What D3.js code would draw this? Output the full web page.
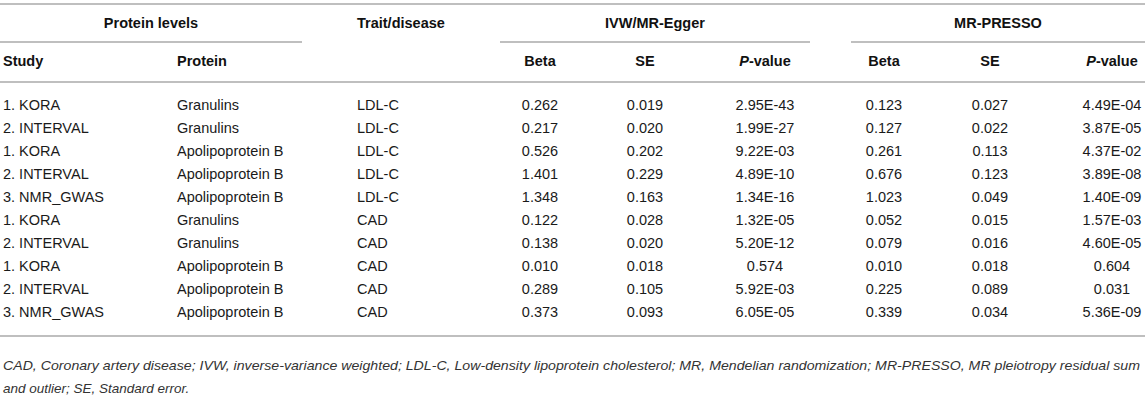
<!DOCTYPE html>
<html lang="en">
<head>
<meta charset="utf-8">
<title>MR results table</title>
<script src="https://cdn.jsdelivr.net/npm/d3@7"></script>
<style>
    body { margin: 0; background: #fff; }
    svg { display: block; font-family: "Liberation Sans", Arial, Helvetica, sans-serif; }
    .rule { stroke: #aaa; stroke-width: 1.5; }
    .hdr { font-weight: bold; font-size: 14.5px; fill: #111; }
    .cell { font-size: 14.5px; fill: #1a1a1a; }
    .note { font-size: 13.5px; font-style: italic; fill: #333; }
</style>
</head>
<body>
<svg width="1145" height="412"></svg>
<script>
// table data
var studies  = ["1. KORA", "2. INTERVAL", "1. KORA", "2. INTERVAL", "3. NMR_GWAS",
                "1. KORA", "2. INTERVAL", "1. KORA", "2. INTERVAL", "3. NMR_GWAS"];
var proteins = ["Granulins", "Granulins", "Apolipoprotein B", "Apolipoprotein B", "Apolipoprotein B",
                "Granulins", "Granulins", "Apolipoprotein B", "Apolipoprotein B", "Apolipoprotein B"];
var traits   = ["LDL-C", "LDL-C", "LDL-C", "LDL-C", "LDL-C", "CAD", "CAD", "CAD", "CAD", "CAD"];
var ivwBeta  = ["0.262", "0.217", "0.526", "1.401", "1.348", "0.122", "0.138", "0.010", "0.289", "0.373"];
var ivwSE    = ["0.019", "0.020", "0.202", "0.229", "0.163", "0.028", "0.020", "0.018", "0.105", "0.093"];
var ivwP     = ["2.95E-43", "1.99E-27", "9.22E-03", "4.89E-10", "1.34E-16",
                "1.32E-05", "5.20E-12", "0.574", "5.92E-03", "6.05E-05"];
var prBeta   = ["0.123", "0.127", "0.261", "0.676", "1.023", "0.052", "0.079", "0.010", "0.225", "0.339"];
var prSE     = ["0.027", "0.022", "0.113", "0.123", "0.049", "0.015", "0.016", "0.018", "0.089", "0.034"];
var prP      = ["4.49E-04", "3.87E-05", "4.37E-02", "3.89E-08", "1.40E-09",
                "1.57E-03", "4.60E-05", "0.604", "0.031", "5.36E-09"];
var groups   = ["Protein levels", "Trait/disease", "IVW/MR-Egger", "MR-PRESSO"];
var notes    = ["CAD, Coronary artery disease; IVW, inverse-variance weighted; LDL-C, Low-density lipoprotein cholesterol; MR, Mendelian randomization; MR-PRESSO, MR pleiotropy residual sum",
                "and outlier; SE, Standard error."];

var svg = d3.select("svg");

// left aligned text columns
var colsLeft = [
    { head: "Study", x: 3, vals: studies },
    { head: "Protein", x: 177, vals: proteins },
    { head: "", x: 357, vals: traits }
];
// centred numeric columns
var colsNum = [
    { head: "Beta", x: 540, vals: ivwBeta },
    { head: "SE", x: 645, vals: ivwSE },
    { head: "P", x: 765, vals: ivwP },
    { head: "Beta", x: 884, vals: prBeta },
    { head: "SE", x: 990, vals: prSE },
    { head: "P", x: 1112, vals: prP }
];

var y = d3.scalePoint().domain(d3.range(studies.length)).range([105, 312]);

// rules
var rules = [
    [0, 1145, 4], [0, 302, 42], [500, 810, 42], [851, 1145, 42],
    [0, 1145, 82], [0, 1145, 336]
];
svg.selectAll("line.rule").data(rules).enter().append("line")
    .attr("class", "rule")
    .attr("x1", function (d) { return d[0]; })
    .attr("x2", function (d) { return d[1]; })
    .attr("y1", function (d) { return d[2]; })
    .attr("y2", function (d) { return d[2]; });

// group headers
var groupX = [151, 357, 655, 998];
svg.selectAll("text.grp").data(groups).enter().append("text")
    .attr("class", "hdr")
    .attr("x", function (d, i) { return groupX[i]; })
    .attr("y", 23)
    .attr("dy", "0.35em")
    .attr("text-anchor", function (d, i) { return i == 1 ? "start" : "middle"; })
    .text(function (d) { return d; });

// column headers
colsLeft.forEach(function (c) {
    svg.append("text").attr("class", "hdr")
        .attr("x", c.x).attr("y", 61).attr("dy", "0.35em")
        .text(c.head);
    svg.selectAll(null).data(c.vals).enter().append("text")
        .attr("class", "cell")
        .attr("x", c.x)
        .attr("y", function (d, i) { return y(i); })
        .attr("dy", "0.35em")
        .text(function (d) { return d; });
});

colsNum.forEach(function (c) {
    var h = svg.append("text").attr("class", "hdr")
        .attr("x", c.x).attr("y", 61).attr("dy", "0.35em")
        .attr("text-anchor", "middle");
    if (c.head == "P") {
        h.append("tspan").style("font-style", "italic").text("P");
        h.append("tspan").text("-value");
    } else {
        h.text(c.head);
    }
    svg.selectAll(null).data(c.vals).enter().append("text")
        .attr("class", "cell")
        .attr("x", c.x)
        .attr("y", function (d, i) { return y(i); })
        .attr("dy", "0.35em")
        .attr("text-anchor", "middle")
        .text(function (d) { return d; });
});

// footnote
svg.selectAll("text.note").data(notes).enter().append("text")
    .attr("class", "note")
    .attr("x", 3)
    .attr("y", function (d, i) { return 365 + i * 23; })
    .attr("dy", "0.35em")
    .text(function (d) { return d; })
    .each(function (d, i) {
        if (i == 0) {
            d3.select(this).attr("textLength", 1137).attr("lengthAdjust", "spacingAndGlyphs");
        }
    });
</script>
</body>
</html>
